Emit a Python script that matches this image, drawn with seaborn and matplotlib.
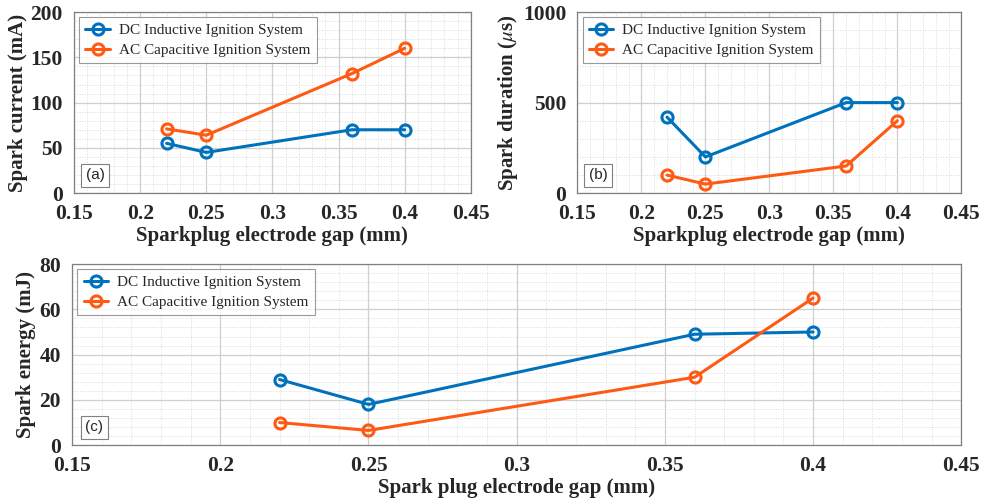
import matplotlib
matplotlib.use("Agg")
import matplotlib.pyplot as plt
from matplotlib.ticker import MultipleLocator, FuncFormatter
import seaborn as sns

sns.set_style("white")
plt.rcParams["font.family"] = ["Liberation Serif", "DejaVu Serif"]
plt.rcParams["mathtext.fontset"] = "stix"

# Electrode gap (mm)
gap = [0.22, 0.25, 0.36, 0.40]

# (a) spark current, mA
current_dc = [55, 45, 70, 70]
current_ac = [71, 64, 132, 160]

# (b) spark duration, microseconds
duration_dc = [420, 200, 500, 500]
duration_ac = [100, 50, 150, 400]

# (c) spark energy, mJ
energy_dc = [29, 18, 49, 50]
energy_ac = [10, 6.5, 30, 65]

series_names = ["DC Inductive Ignition System", "AC Capacitive Ignition System"]
colors = ["#0072BD", "#FF5A14"]

fig = plt.figure(figsize=(9.87, 5.03), dpi=100)
ax_a = fig.add_axes([0.075, 0.616, 0.402, 0.360])
ax_b = fig.add_axes([0.585, 0.616, 0.389, 0.360])
ax_c = fig.add_axes([0.073, 0.115, 0.901, 0.360])


def draw(ax, dc, ac, ylim, ymajor, yminor, ylabel, xlabel, tag, tag_x):
    for vals, name, col in zip([dc, ac], series_names, colors):
        sns.lineplot(x=gap, y=vals, ax=ax, color=col, linewidth=2.2,
                     marker="o", markersize=8, markerfacecolor="none",
                     markeredgecolor=col, markeredgewidth=2.2,
                     label=name, sort=False)
    ax.set_xlim(0.15, 0.45)
    ax.set_ylim(*ylim)
    ax.xaxis.set_major_locator(MultipleLocator(0.05))
    ax.xaxis.set_minor_locator(MultipleLocator(0.01))
    ax.yaxis.set_major_locator(MultipleLocator(ymajor))
    ax.yaxis.set_minor_locator(MultipleLocator(yminor))
    ax.xaxis.set_major_formatter(FuncFormatter(
        lambda v, p: f"{v:.2f}".rstrip("0")))
    ax.grid(which="major", color="#cfcfcf", linewidth=0.9)
    ax.grid(which="minor", color="#dadada", linestyle=":", linewidth=0.7)
    ax.set_axisbelow(True)
    for s in ax.spines.values():
        s.set_color("#808080")
        s.set_linewidth(0.9)
    ax.tick_params(which="both", length=0, labelsize=15.5)
    ax.tick_params(axis="x", pad=8)
    ax.tick_params(axis="y", pad=8)
    for lab in ax.get_xticklabels() + ax.get_yticklabels():
        lab.set_fontweight("bold")
    ax.set_xlabel(xlabel, fontsize=15, fontweight="bold", labelpad=1)
    ax.set_ylabel(ylabel, fontsize=15, fontweight="bold", labelpad=2)
    leg = ax.legend(loc="upper left", fontsize=11, frameon=True, fancybox=False,
                    borderaxespad=0.35, handlelength=1.6, handletextpad=0.6,
                    borderpad=0.4, labelspacing=0.4)
    leg.get_frame().set_edgecolor("#808080")
    leg.get_frame().set_linewidth(0.8)
    ax.text(tag_x, 0.06, tag, transform=ax.transAxes, fontsize=11,
            family=["Liberation Sans", "DejaVu Sans"], ha="left", va="bottom",
            bbox=dict(boxstyle="square,pad=0.3", facecolor="white",
                      edgecolor="#808080", linewidth=0.8))


draw(ax_a, current_dc, current_ac, (0, 200), 50, 10,
     "Spark current (mA)", "Sparkplug electrode gap (mm)", "(a)", 0.03)
draw(ax_b, duration_dc, duration_ac, (0, 1000), 500, 100,
     r"Spark duration ($\mu$s)", "Sparkplug electrode gap (mm)", "(b)", 0.03)
draw(ax_c, energy_dc, energy_ac, (0, 80), 20, 4,
     "Spark energy (mJ)", "Spark plug electrode gap (mm)", "(c)", 0.015)

fig.savefig("out.png", dpi=100)
